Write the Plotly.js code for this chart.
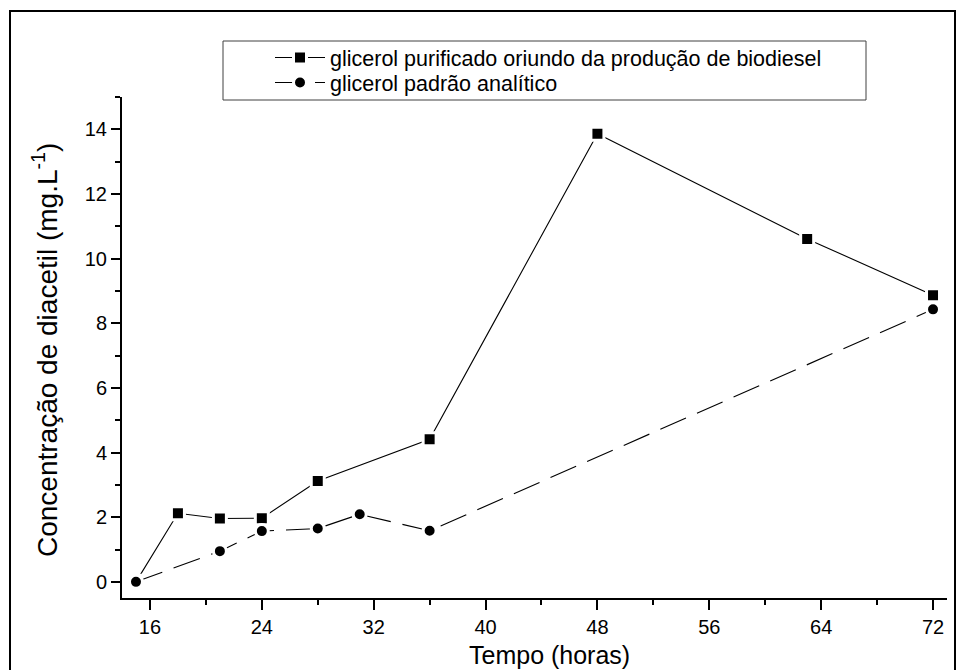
<!DOCTYPE html>
<html>
<head>
<meta charset="utf-8">
<script src="https://cdn.plot.ly/plotly-3.0.1.min.js"></script>
<style>
  html, body { margin: 0; padding: 0; background: #ffffff; }
  #chart { width: 958px; height: 670px; }
</style>
</head>
<body>
<div id="chart"></div>
<script>
// Diacetil concentration over time for two glycerol sources
const seriesNames = [
  'glicerol purificado oriundo da produção de biodiesel',
  'glicerol padrão analítico'
];

const tempoPurificado = [15, 18, 21, 24, 28, 36, 48, 63, 72];
const diacetilPurificado = [0, 2.12, 1.96, 1.97, 3.12, 4.41, 13.86, 10.61, 8.87];

const tempoPadrao = [15, 21, 24, 28, 31, 36, 72];
const diacetilPadrao = [0, 0.95, 1.57, 1.65, 2.09, 1.58, 8.43];

const xTickVals = [16, 24, 32, 40, 48, 56, 64, 72];
const yTickVals = [0, 2, 4, 6, 8, 10, 12, 14];

const xTitle = 'Tempo (horas)';
const yTitle = 'Concentração de diacetil (mg.L<sup>-1</sup>)';

const fontFamily = 'Arial, "Liberation Sans", sans-serif';

// plot area in pixels, used to place frame, legend box and titles
const plotLeft = 122, plotRight = 947, plotTop = 97, plotBottom = 598;
const px2x = p => (p - plotLeft) / (plotRight - plotLeft);
const px2y = p => (plotBottom - p) / (plotBottom - plotTop);

const traces = [
  {
    x: tempoPurificado,
    y: diacetilPurificado,
    name: seriesNames[0],
    legend: 'legend',
    type: 'scatter',
    mode: 'lines+markers',
    line: { color: '#000000', width: 1.1 },
    marker: { symbol: 'square', size: 13, color: '#000000',
              line: { color: '#ffffff', width: 3 } }
  },
  {
    x: tempoPadrao,
    y: diacetilPadrao,
    name: seriesNames[1],
    legend: 'legend2',
    type: 'scatter',
    mode: 'lines+markers',
    line: { color: '#000000', width: 1.1, dash: '28px,12px' },
    marker: { symbol: 'circle', size: 13, color: '#000000',
              line: { color: '#ffffff', width: 3 } }
  }
];

// one legend per series, so the two rows sit as close as in the boxed key
const legendStyle = top => ({
  x: px2x(270), y: px2y(top), xanchor: 'left', yanchor: 'top',
  bgcolor: 'rgba(0,0,0,0)', borderwidth: 0,
  itemwidth: 50,
  font: { family: fontFamily, size: 21.5, color: '#000000' }
});

const layout = {
  width: 958,
  height: 670,
  margin: { l: plotLeft, r: 958 - plotRight, t: plotTop, b: 670 - plotBottom },
  paper_bgcolor: '#ffffff',
  plot_bgcolor: '#ffffff',
  font: { family: fontFamily, color: '#000000', size: 20 },
  showlegend: true,
  legend: legendStyle(37),
  legend2: legendStyle(62),
  xaxis: {
    range: [14, 73],
    tickmode: 'array',
    tickvals: xTickVals,
    ticktext: xTickVals.map(String),
    ticks: 'outside', ticklen: 10, tickwidth: 2, tickcolor: '#000000',
    minor: { dtick: 4, tick0: 0, ticks: 'outside', ticklen: 5, tickwidth: 2, tickcolor: '#000000', showgrid: false },
    showline: true, linecolor: '#000000', linewidth: 2,
    showgrid: false, zeroline: false,
    tickfont: { family: fontFamily, size: 20, color: '#000000' }
  },
  yaxis: {
    range: [-0.5, 15],
    tickmode: 'array',
    tickvals: yTickVals,
    ticktext: yTickVals.map(String),
    ticks: 'outside', ticklen: 9, tickwidth: 2, tickcolor: '#000000',
    minor: { dtick: 1, tick0: 0, ticks: 'outside', ticklen: 5, tickwidth: 2, tickcolor: '#000000', showgrid: false },
    showline: true, linecolor: '#000000', linewidth: 2,
    showgrid: false, zeroline: false,
    tickfont: { family: fontFamily, size: 20, color: '#000000' }
  },
  annotations: [
    { text: xTitle, xref: 'paper', yref: 'paper', x: px2x(549), y: px2y(655),
      xanchor: 'center', yanchor: 'middle', showarrow: false,
      font: { family: fontFamily, size: 25, color: '#000000' } },
    { text: yTitle, xref: 'paper', yref: 'paper', x: px2x(45), y: px2y(350),
      xanchor: 'center', yanchor: 'middle', showarrow: false, textangle: -90,
      font: { family: fontFamily, size: 28, color: '#000000' } }
  ],
  shapes: [
    // outer frame around the whole figure
    { type: 'rect', xref: 'paper', yref: 'paper',
      x0: px2x(10), x1: px2x(955), y0: px2y(680), y1: px2y(11),
      line: { color: '#000000', width: 2 }, fillcolor: 'rgba(0,0,0,0)', layer: 'above' },
    // legend box
    { type: 'rect', xref: 'paper', yref: 'paper',
      x0: px2x(223), x1: px2x(866), y0: px2y(100), y1: px2y(41),
      line: { color: '#404040', width: 1 }, fillcolor: 'rgba(0,0,0,0)', layer: 'above' }
  ]
};

Plotly.newPlot('chart', traces, layout, { displayModeBar: false, staticPlot: true });
</script>
</body>
</html>
